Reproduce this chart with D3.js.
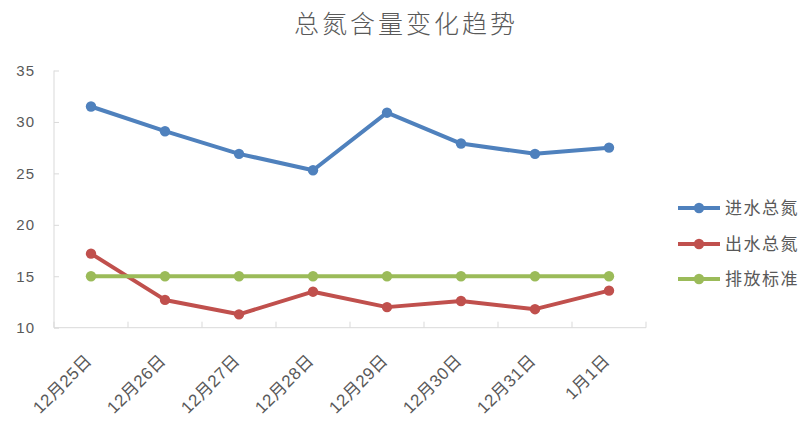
<!DOCTYPE html>
<html><head><meta charset="utf-8">
<script src="https://cdn.jsdelivr.net/npm/d3@7"></script>
<style>body{margin:0;background:#fff}svg{display:block}</style>
</head><body>
<script>
const categories = ["12月25日","12月26日","12月27日","12月28日","12月29日","12月30日","12月31日","1月1日"];
const inflowTN = [31.5, 29.1, 26.9, 25.3, 30.9, 27.9, 26.9, 27.5];
const outflowTN = [17.2, 12.7, 11.3, 13.5, 12.0, 12.6, 11.8, 13.6];
const standardTN = [15, 15, 15, 15, 15, 15, 15, 15];
const yTicks = [10, 15, 20, 25, 30, 35];
const seriesNames = ["进水总氮","出水总氮","排放标准"];
const title = "总氮含量变化趋势";

const W = 812, H = 432;
const pLeft = 54, pRight = 646, pTop = 70.5, pBottom = 327.7;
const colors = ["#4f81bd","#c0504d","#9bbb59"];
const series = [inflowTN, outflowTN, standardTN];
const gray = "#595959", axisC = "#d9d9d9";

const svg = d3.select("body").append("svg").attr("width", W).attr("height", H);
const x = d3.scaleBand().domain(categories).range([pLeft, pRight]);
const y = d3.scaleLinear().domain([10, 35]).range([pBottom, pTop]);

svg.append("text").attr("x", 406).attr("y", 33).attr("text-anchor","middle")
  .attr("font-family","'Noto Sans CJK SC'").attr("font-weight",300).attr("font-size",25)
  .attr("letter-spacing",3).attr("fill",gray).text(title);

// y axis
const ya = svg.append("g").attr("transform",`translate(${pLeft},0)`)
  .call(d3.axisRight(y).tickValues(yTicks).tickSize(5).tickFormat(""));
ya.select(".domain").remove();
ya.selectAll("line").attr("stroke",axisC);
svg.append("line").attr("x1",pLeft).attr("x2",pLeft).attr("y1",pTop).attr("y2",pBottom).attr("stroke",axisC);
svg.append("g").selectAll("text").data(yTicks).join("text")
  .attr("x",35).attr("y",d=>y(d)).attr("dy","0.36em").attr("text-anchor","end")
  .attr("font-family","'Liberation Sans'").attr("font-size",15).attr("letter-spacing",1)
  .attr("fill",gray).text(d=>d);

// x axis
const bounds = categories.map(c=>x(c)).concat([pRight]);
svg.append("g").selectAll("line").data(bounds).join("line")
  .attr("x1",d=>d).attr("x2",d=>d).attr("y1",pBottom).attr("y2",pBottom-6).attr("stroke",axisC);
svg.append("line").attr("x1",pLeft).attr("x2",pRight).attr("y1",pBottom).attr("y2",pBottom).attr("stroke",axisC);
svg.append("g").selectAll("text").data(categories).join("text")
  .attr("transform",d=>`translate(${x(d)+x.bandwidth()/2+2},${pBottom+34}) rotate(-45)`)
  .attr("text-anchor","end")
  .attr("font-family","'Liberation Sans','Noto Sans CJK SC'").attr("font-size",17).attr("letter-spacing",0.5)
  .attr("fill",gray).text(d=>d);

const line = d3.line().x((d,i)=>x(categories[i])+x.bandwidth()/2).y(d=>y(d));
series.forEach((s,k)=>{
  svg.append("path").datum(s).attr("d",line).attr("fill","none")
    .attr("stroke",colors[k]).attr("stroke-width",4).attr("stroke-linejoin","round");
  svg.append("g").selectAll("circle").data(s).join("circle")
    .attr("cx",(d,i)=>x(categories[i])+x.bandwidth()/2).attr("cy",d=>y(d)).attr("r",5.2)
    .attr("fill",colors[k]);
});

// legend
const ly = [208, 244, 279];
seriesNames.forEach((n,k)=>{
  const g = svg.append("g");
  g.append("line").attr("x1",678).attr("x2",720).attr("y1",ly[k]).attr("y2",ly[k])
    .attr("stroke",colors[k]).attr("stroke-width",4);
  g.append("circle").attr("cx",699).attr("cy",ly[k]).attr("r",5.2).attr("fill",colors[k]);
  g.append("text").attr("x",725).attr("y",ly[k]).attr("dy","0.36em")
    .attr("font-family","'Noto Sans CJK SC'").attr("font-size",17).attr("letter-spacing",1.5)
    .attr("fill",gray).text(n);
});
</script>
</body></html>
